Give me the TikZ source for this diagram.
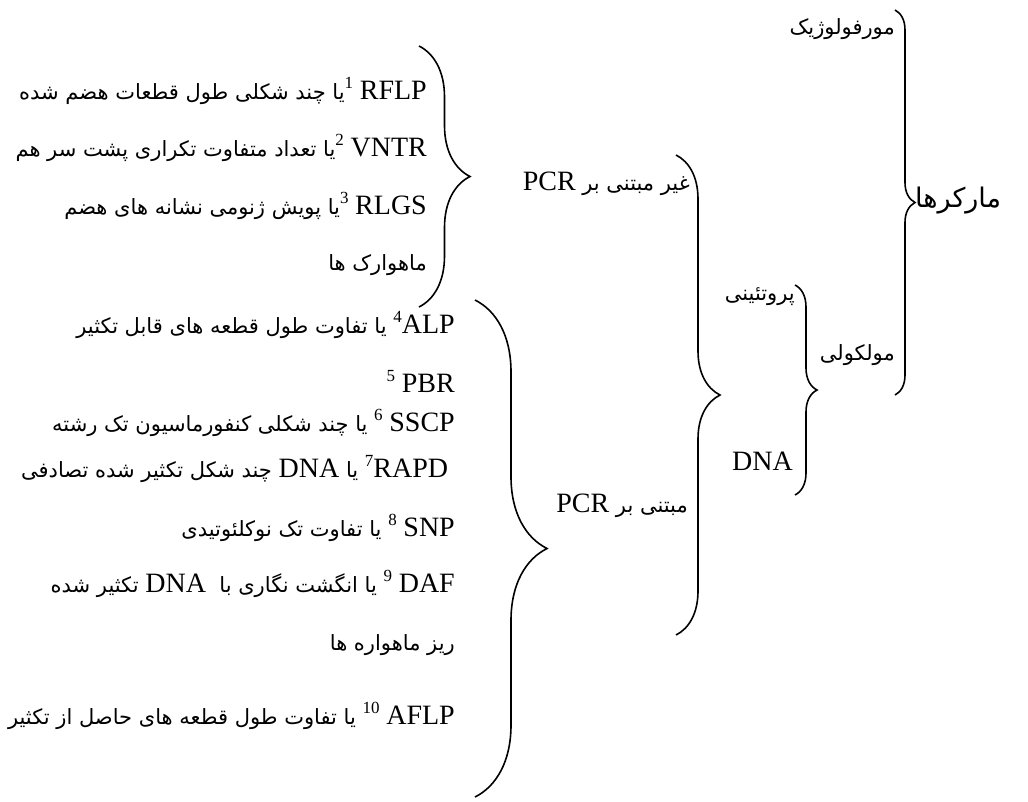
\documentclass[tikz,border=0pt]{standalone}
\usepackage{fontspec}
\setmainfont{Liberation Serif}
\newfontfamily\fafont[Script=Arabic]{DejaVu Sans}
\TeXXeTstate=1
\usetikzlibrary{decorations.pathreplacing}

\newcommand{\lat}[1]{\beginL{\rmfamily\fontsize{28}{30}\selectfont #1}\endL}
\newcommand{\sups}[1]{\beginL\raisebox{11pt}{\rmfamily\fontsize{17}{17}\selectfont #1}\endL}
\newcommand{\fa}[1]{{\fafont\fontsize{21}{24}\selectfont\beginR #1\endR}}

\tikzset{
  entry/.style={anchor=base east, inner sep=0pt},
  heading/.style={inner sep=0pt},
  curly/.style={decorate, decoration={brace, amplitude=#1}, line width=1.6pt}
}

\begin{document}
\begin{tikzpicture}[x=1pt, y=-1pt]
\useasboundingbox (0,0) rectangle (1028,801);

% right hand headings
\node[heading, anchor=base west] (markers) at (915,207) {{\fafont\fontsize{27}{30}\selectfont\beginR مارکرها\endR}};
\node[heading, anchor=base east] (morph) at (895,34) {\fa{مورفولوژیک}};
\node[heading, anchor=base east] (molec) at (895,360) {\fa{مولکولی}};
\node[heading, anchor=base east] (prot) at (795,300) {\fa{پروتئینی}};
\node[heading, anchor=base east] (dna) at (793,470) {\lat{DNA}};
\node[heading, anchor=base east] (nonpcr) at (690,190) {\fa{غیر مبتنی بر \lat{PCR}}};
\node[heading, anchor=base east] (pcr) at (688,512) {\fa{مبتنی بر \lat{PCR}}};

% non PCR based
\node[entry] (rflp) at (427,99) {\fa{\lat{RFLP}\ \sups{1}یا چند شکلی طول قطعات هضم شده}};
\node[entry] (vntr) at (427,156) {\fa{\lat{VNTR}\ \sups{2}یا تعداد متفاوت تکراری پشت سر هم}};
\node[entry] (rlgs) at (427,214) {\fa{\lat{RLGS}\ \sups{3}یا پویش ژنومی نشانه های هضم}};
\node[entry] (minisat) at (427,270) {\fa{ماهوارک ها}};

% PCR based
\node[entry] (alp) at (455,333) {\fa{\lat{ALP}\sups{4} یا تفاوت طول قطعه های قابل تکثیر}};
\node[entry] (pbr) at (455,392) {\fa{\lat{PBR}\ \sups{5}}};
\node[entry] (sscp) at (455,431) {\fa{\lat{SSCP}\ \sups{6} یا چند شکلی کنفورماسیون تک رشته}};
\node[entry] (rapd) at (455,477) {\fa{\ \lat{RAPD}\sups{7} یا \lat{DNA} چند شکل تکثیر شده تصادفی}};
\node[entry] (snp) at (455,536) {\fa{\lat{SNP}\ \sups{8} یا تفاوت تک نوکلئوتیدی}};
\node[entry] (daf) at (455,592) {\fa{\lat{DAF}\ \sups{9} یا انگشت نگاری با\ \ \lat{DNA} تکثیر شده}};
\node[entry] (microsat) at (455,650) {\fa{ریز ماهواره ها}};
\node[entry] (aflp) at (455,724) {\fa{\lat{AFLP}\ \sups{10} یا تفاوت طول قطعه های حاصل از تکثیر}};

% brace ends
\coordinate (mk-top) at (895,10);
\coordinate (mk-bot) at (895,395);
\coordinate (ml-top) at (795,285);
\coordinate (ml-bot) at (795,495);
\coordinate (dn-top) at (676,155);
\coordinate (dn-bot) at (676,635);
\coordinate (np-top) at (419,46);
\coordinate (np-bot) at (419,307);
\coordinate (pc-top) at (475,300);
\coordinate (pc-bot) at (475,797);

\draw[curly=20] (mk-top) -- (mk-bot);
\draw[curly=22] (ml-top) -- (ml-bot);
\draw[curly=44] (dn-top) -- (dn-bot);
\draw[curly=51] (np-top) -- (np-bot);
\draw[curly=72] (pc-top) -- (pc-bot);
\end{tikzpicture}
\end{document}
